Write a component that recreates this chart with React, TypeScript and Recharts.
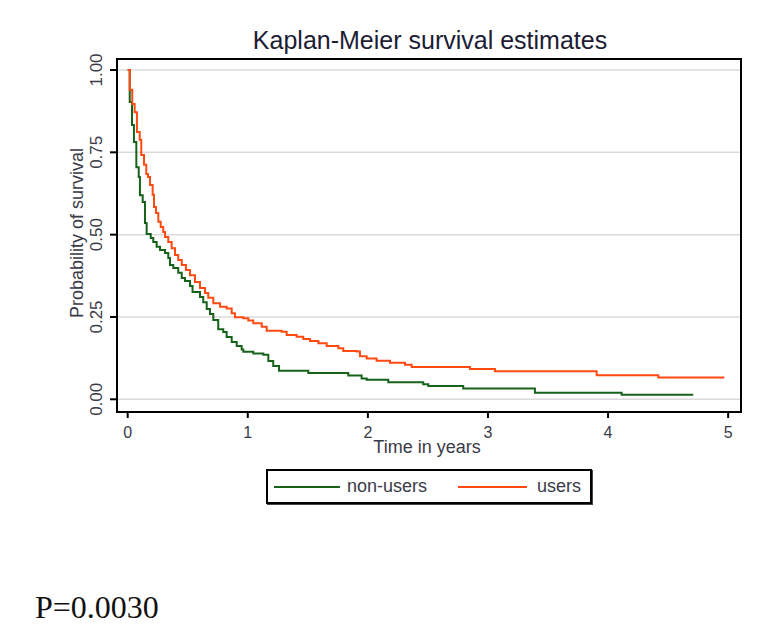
import { LineChart, Line, XAxis, YAxis, CartesianGrid, ReferenceArea, Legend } from "recharts";

// Kaplan-Meier step points: time (years) where the drop happens, survival after it
const USERS_T = [
  0, 0.017, 0.038, 0.058, 0.077, 0.1, 0.113, 0.136, 0.155, 0.169, 0.186, 0.208, 0.219, 0.236, 0.255,
  0.275, 0.296, 0.311, 0.338, 0.366, 0.394, 0.421, 0.45, 0.485, 0.519, 0.56, 0.602, 0.644, 0.671,
  0.713, 0.769, 0.824, 0.866, 0.893, 0.963, 1.004, 1.046, 1.116, 1.157, 1.282, 1.324, 1.407, 1.462,
  1.518, 1.588, 1.657, 1.754, 1.795, 1.907, 1.934, 1.99, 2.073, 2.184, 2.309, 2.365, 2.85, 3.058,
  3.905, 4.418, 4.968,
];
const USERS_S = [
  1.0, 0.94, 0.897, 0.872, 0.812, 0.788, 0.742, 0.712, 0.684, 0.675, 0.651, 0.621, 0.584, 0.566, 0.539,
  0.523, 0.508, 0.493, 0.478, 0.459, 0.438, 0.423, 0.408, 0.393, 0.377, 0.356, 0.338, 0.323, 0.308,
  0.292, 0.281, 0.276, 0.261, 0.249, 0.246, 0.239, 0.231, 0.22, 0.208, 0.205, 0.195, 0.19, 0.183,
  0.177, 0.17, 0.162, 0.155, 0.147, 0.145, 0.131, 0.124, 0.117, 0.111, 0.105, 0.098, 0.092, 0.085,
  0.073, 0.066, 0.066,
];
const NON_USERS_T = [
  0, 0.017, 0.036, 0.052, 0.072, 0.092, 0.102, 0.125, 0.144, 0.158, 0.192, 0.213, 0.241, 0.269, 0.311,
  0.338, 0.352, 0.38, 0.421, 0.45, 0.477, 0.519, 0.54, 0.602, 0.629, 0.658, 0.685, 0.713, 0.754,
  0.796, 0.824, 0.866, 0.908, 0.949, 0.963, 1.046, 1.129, 1.171, 1.212, 1.26, 1.504, 1.837, 1.948,
  1.99, 2.17, 2.461, 2.503, 2.794, 3.391, 4.113, 4.709,
];
const NON_USERS_S = [
  1.0, 0.903, 0.833, 0.781, 0.705, 0.675, 0.62, 0.599, 0.535, 0.502, 0.49, 0.478, 0.463, 0.453, 0.444,
  0.429, 0.408, 0.399, 0.384, 0.368, 0.359, 0.344, 0.326, 0.311, 0.295, 0.274, 0.259, 0.241, 0.213,
  0.204, 0.189, 0.174, 0.162, 0.151, 0.144, 0.139, 0.135, 0.116, 0.101, 0.087, 0.08, 0.072, 0.063,
  0.059, 0.052, 0.046, 0.04, 0.033, 0.02, 0.014, 0.014,
];
const X_TICKS = [0, 1, 2, 3, 4, 5];
const Y_TICKS = [0, 0.25, 0.5, 0.75, 1];

const X_DOMAIN: [number, number] = [-0.089, 5.107];
const Y_DOMAIN: [number, number] = [-0.0386, 1.0334];

const GREEN = "#17621a";
const ORANGE = "#ff4a12";
const TEXT = "#3a3a48";
const SANS = "'Liberation Sans', Arial, sans-serif";

const users = USERS_T.map((t, i) => ({ t, s: USERS_S[i] }));
const nonUsers = NON_USERS_T.map((t, i) => ({ t, s: NON_USERS_S[i] }));

const YTick = (props: any) => {
  const { x, y, payload } = props;
  const bx = x - 8;
  return (
    <text
      x={bx}
      y={y}
      transform={`rotate(-90 ${bx} ${y})`}
      textAnchor="middle"
      fontSize={17}
      fill={TEXT}
      fontFamily={SANS}
    >
      {Number(payload.value).toFixed(2)}
    </text>
  );
};

// swatch / label offsets inside the legend box
const LEG_LINE_X = [8, 192];
const LEG_LINE_W = [66, 69];
const LEG_TEXT_X = [81, 271];

const LegendBox = (props: any) => {
  const items = props.payload ?? [];
  return (
    <div
      style={{
        position: "relative",
        boxSizing: "border-box",
        width: 326,
        height: 35,
        border: "2px solid #000",
        boxShadow: "1px 1px 0 #444",
        background: "#fff",
        fontFamily: SANS,
        fontSize: 18,
        color: TEXT,
      }}
    >
      {items.map((it: any, i: number) => (
        <div key={it.value}>
          <span
            style={{
              position: "absolute",
              left: LEG_LINE_X[i] - 2,
              top: 15,
              width: LEG_LINE_W[i],
              height: 2,
              background: it.color,
            }}
          />
          <span style={{ position: "absolute", left: LEG_TEXT_X[i] - 2, top: 5, lineHeight: "20px" }}>
            {it.value}
          </span>
        </div>
      ))}
    </div>
  );
};

export default function App() {
  return (
    <div style={{ position: "absolute", left: 0, top: 0, width: 771, height: 644, background: "#fff" }}>
      <LineChart
        width={771}
        height={500}
        margin={{ top: 59, right: 30, bottom: 48, left: 77 }}
        style={{ position: "absolute", left: 0, top: 0, fontFamily: SANS }}
      >
        <CartesianGrid horizontal vertical={false} stroke="#dadada" strokeWidth={1.5} />
        <XAxis
          type="number"
          dataKey="t"
          domain={X_DOMAIN}
          ticks={X_TICKS}
          allowDataOverflow
          height={40}
          axisLine={false}
          tickSize={6}
          tickMargin={9}
          tickLine={{ stroke: "#000", strokeWidth: 2 }}
          tick={{ fontSize: 16, fill: TEXT }}
        />
        <YAxis
          type="number"
          domain={Y_DOMAIN}
          ticks={Y_TICKS}
          allowDataOverflow
          width={40}
          axisLine={false}
          tickSize={7}
          tickMargin={0}
          tickLine={{ stroke: "#000", strokeWidth: 2 }}
          tick={<YTick />}
        />
        <ReferenceArea
          x1={X_DOMAIN[0]}
          x2={X_DOMAIN[1]}
          y1={Y_DOMAIN[0]}
          y2={Y_DOMAIN[1]}
          fill="none"
          fillOpacity={0}
          stroke="#000"
          strokeWidth={2}
        />
        <Line
          data={nonUsers}
          dataKey="s"
          name="non-users"
          type="stepAfter"
          stroke={GREEN}
          strokeWidth={2}
          dot={false}
          isAnimationActive={false}
        />
        <Line
          data={users}
          dataKey="s"
          name="users"
          type="stepAfter"
          stroke={ORANGE}
          strokeWidth={2}
          dot={false}
          isAnimationActive={false}
        />
        <Legend
          layout="horizontal"
          verticalAlign="middle"
          align="center"
          wrapperStyle={{ left: 266, top: 469, width: 326, height: 35 }}
          content={<LegendBox />}
        />
      </LineChart>
      <svg width={771} height={644} style={{ position: "absolute", left: 0, top: 0, pointerEvents: "none" }}>
        <text x={430} y={49} textAnchor="middle" fontSize={25} fill="#1c1c34" fontFamily={SANS}>
          Kaplan-Meier survival estimates
        </text>
        <text x={427} y={453} textAnchor="middle" fontSize={18} fill={TEXT} fontFamily={SANS}>
          Time in years
        </text>
        <text
          x={83}
          y={233}
          transform="rotate(-90 83 233)"
          textAnchor="middle"
          fontSize={18}
          fill={TEXT}
          fontFamily={SANS}
        >
          Probability of survival
        </text>
        <text x={35} y={618} fontSize={32} fill="#111" fontFamily="'Liberation Serif', 'Times New Roman', serif">
          P=0.0030
        </text>
      </svg>
    </div>
  );
}
